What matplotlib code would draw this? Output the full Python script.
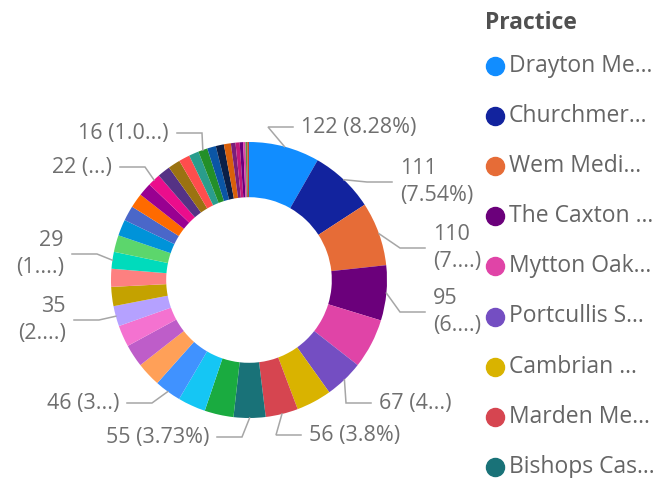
import numpy as np
import matplotlib
matplotlib.use('Agg')
import matplotlib.pyplot as plt

# slice values, clockwise from 12 o'clock (sorted descending)
values = [122, 111, 110, 95, 86, 67, 61, 56, 55,
          50, 48, 46, 42, 39, 37, 35, 33, 31, 29,
          29, 28, 26, 25, 23, 22, 22, 21, 19, 17, 16, 15, 14, 12,
          8, 7, 6, 4, 3, 3]
colors = ['#118DFF', '#12239E', '#E66C37', '#6B007B', '#E044A7', '#744EC2', '#D9B300', '#D64550', '#197278',
          '#1AAB40', '#15C6F4', '#4092FF', '#FFA058', '#BE5DC9', '#F472D0', '#B5A1FF', '#C4A200', '#FD8080', '#00DBBC',
          '#5CD66C', '#0093D9', '#4A67C9', '#FF6A00', '#990091', '#EB0D8C', '#553285', '#9B7211', '#FF4D4D', '#2A9D8C',
          '#238F29', '#0B56A6', '#0B1F47', '#D9600B',
          '#7A1F7A', '#C2187A', '#6B007B', '#E044A7', '#5E8E3E', '#C24A2A']

# legend (only the visible part of the Power BI legend)
legend_title = 'Practice'
legend_names = ['Drayton Me...', 'Churchmer...', 'Wem Medi...', 'The Caxton ...', 'Mytton Oak...',
                'Portcullis S...', 'Cambrian ...', 'Marden Me...', 'Bishops Cas...']

# data labels shown by the visual (index of slice, text as displayed)
label_idx = [0, 1, 2, 3, 5, 7, 8, 11, 15, 18, 24, 29]
label_txt = ['122 (8.28%)', '111\n(7.54%)', '110\n(7....)', '95\n(6....)', '67 (4...)', '56 (3.8%)',
             '55 (3.73%)', '46 (3...)', '35\n(2....)', '29\n(1....)', '22 (...)', '16 (1.0...)']

# layout: label text anchor in pixels (x, y from top)
label_pos = [(301, 127), (400, 182), (433, 248), (433, 312), (379, 403), (309, 435),
             (209, 437), (119, 403), (66, 320), (64, 254), (112, 167), (169, 133)]

W, H = 672, 478
CX, CY, R = 249, 280, 138  # donut centre / radius in pixels

plt.rcParams['font.family'] = ['Open Sans', 'DejaVu Sans']

fig = plt.figure(figsize=(W / 100, H / 100), dpi=100)
ax = fig.add_axes([0, 0, 1, 1])

ax.pie(values, colors=colors, startangle=90, counterclock=False, radius=1,
       wedgeprops=dict(width=0.4, linewidth=0))
ax.set_xlim(-CX / R, (W - CX) / R)
ax.set_ylim((CY - H) / R, CY / R)
ax.set_aspect('auto')
ax.axis('off')


def to_data(px, py):
    return (px - CX) / R, (CY - py) / R


total = sum(values)
cum = np.cumsum([0] + values)
for i, txt, (tx, ty) in zip(label_idx, label_txt, label_pos):
    mid = (cum[i] + values[i] / 2) / total * 2 * np.pi
    x0, y0 = np.sin(mid), np.cos(mid)
    right = tx > CX
    sgn = 1 if right else -1
    ex, ey = to_data(tx - sgn * 33, ty)
    hx, _ = to_data(tx - sgn * 8, ty)
    ax.plot([x0, ex, hx], [y0, ey, ey], color='#a6a6a6', lw=1.1, solid_joinstyle='miter')
    lx, ly = to_data(tx, ty)
    ax.text(lx, ly, txt, ha='left' if right else 'right', va='center', fontsize=15.5,
            color='#6f6f6f', linespacing=1.35)

# legend
fig.text(485 / W, 1 - 23 / H, legend_title, fontsize=16.5, fontweight='bold', color='#505050',
         ha='left', va='center')
for k, name in enumerate(legend_names):
    yy = 1 - (66 + k * 50.1) / H
    fig.add_artist(plt.Line2D([495 / W], [yy], marker='o', markersize=13, color=colors[k],
                              linestyle='none', transform=fig.transFigure))
    fig.text(509 / W, yy, name, fontsize=16.5, color='#656565', ha='left', va='center')

fig.savefig('out.png', dpi=100)
